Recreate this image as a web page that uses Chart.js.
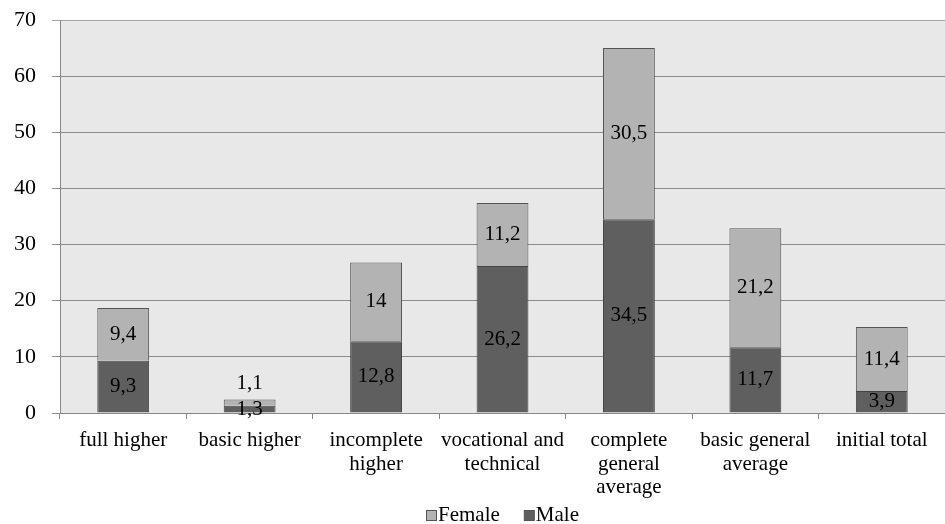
<!DOCTYPE html>
<html>
<head>
<meta charset="utf-8">
<script src="https://cdn.jsdelivr.net/npm/chart.js@4"></script>
<style>
  html, body { margin: 0; padding: 0; background: #fff; }
  #wrap { width: 945px; height: 524px; }
</style>
</head>
<body>
<div id="wrap"><canvas id="chart"></canvas></div>
<script>
var categories = [
  ['full higher'],
  ['basic higher'],
  ['incomplete', 'higher'],
  ['vocational and', 'technical'],
  ['complete', 'general', 'average'],
  ['basic general', 'average'],
  ['initial total']
];
var maleValues   = [9.3, 1.3, 12.8, 26.2, 34.5, 11.7, 3.9];
var femaleValues = [9.4, 1.1, 14, 11.2, 30.5, 21.2, 11.4];
var yTicks = [0, 10, 20, 30, 40, 50, 60, 70];

var serif = "'Liberation Serif', serif";
Chart.defaults.font.family = serif;

// grey plot area behind the bars
var plotBackground = {
  id: 'plotBackground',
  beforeDraw: function(chart) {
    var a = chart.chartArea, ctx = chart.ctx;
    ctx.save();
    ctx.fillStyle = '#e8e8e8';
    ctx.fillRect(a.left, a.top, a.right - a.left, a.bottom - a.top);
    ctx.restore();
  }
};

// values written in the middle of each segment, comma as decimal mark
var segmentLabels = {
  id: 'segmentLabels',
  afterDatasetsDraw: function(chart) {
    var ctx = chart.ctx;
    ctx.save();
    ctx.font = '21px ' + serif;
    ctx.fillStyle = '#000';
    ctx.textAlign = 'center';
    ctx.textBaseline = 'middle';
    chart.data.datasets.forEach(function(ds, di) {
      chart.getDatasetMeta(di).data.forEach(function(bar, i) {
        var txt = String(ds.data[i]).replace('.', ',');
        var h = Math.abs(bar.base - bar.y);
        var y = (bar.y + bar.base) / 2;
        if (h < 20 && ds.label === 'Female') y = bar.y - 16;
        ctx.fillText(txt, bar.x, y);
      });
    });
    ctx.restore();
  }
};

// Excel-like legend: small square glued to its text, Female first
var bottomLegend = {
  id: 'bottomLegend',
  afterDraw: function(chart) {
    var ctx = chart.ctx;
    var x = 426, y = 515;
    ctx.save();
    ctx.font = '21px ' + serif;
    ctx.textBaseline = 'middle';
    ctx.textAlign = 'left';
    chart.data.datasets.slice().reverse().forEach(function(ds) {
      ctx.fillStyle = ds.backgroundColor;
      ctx.fillRect(x + 0.5, y - 4.5, 10, 10);
      ctx.strokeStyle = '#555';
      ctx.lineWidth = 1;
      ctx.strokeRect(x + 0.5, y - 4.5, 10, 10);
      ctx.fillStyle = '#000';
      ctx.fillText(ds.label, x + 12, y);
      x += 12 + ctx.measureText(ds.label).width + 24;
    });
    ctx.restore();
  }
};

new Chart(document.getElementById('chart'), {
  type: 'bar',
  data: {
    labels: categories,
    datasets: [
      { label: 'Male', data: maleValues, backgroundColor: '#5f5f5f',
        borderColor: '#444', borderWidth: 1 },
      { label: 'Female', data: femaleValues, backgroundColor: '#b3b3b3',
        borderColor: '#555', borderWidth: 1 }
    ]
  },
  options: {
    responsive: true,
    maintainAspectRatio: false,
    animation: false,
    barPercentage: 0.41,
    categoryPercentage: 1,
    layout: { padding: { top: 20, right: 0, left: 0, bottom: 20 } },
    plugins: {
      tooltip: { enabled: false },
      legend: { display: false }
    },
    scales: {
      x: {
        stacked: true,
        afterFit: function(axis) { axis.height = 91; },
        grid: { offset: true, drawOnChartArea: false, color: '#888', tickLength: 6 },
        border: { color: '#888' },
        ticks: { font: { family: serif, size: 21, lineHeight: 1.12 }, color: '#000', maxRotation: 0, autoSkip: false, padding: 10 }
      },
      y: {
        stacked: true,
        min: 0, max: 70,
        afterBuildTicks: function(axis) {
          axis.ticks = yTicks.map(function(v) { return { value: v }; });
        },
        afterFit: function(axis) { axis.width = 60; },
        grid: {
          color: function(c) { return c.tick && c.tick.value === 70 ? '#a6a6a6' : '#8c8c8c'; },
          tickLength: 8
        },
        border: { color: '#888' },
        ticks: { font: { family: serif, size: 22, lineHeight: 0.2 }, color: '#000', padding: 16 }
      }
    }
  },
  plugins: [plotBackground, segmentLabels, bottomLegend]
});
</script>
</body>
</html>
